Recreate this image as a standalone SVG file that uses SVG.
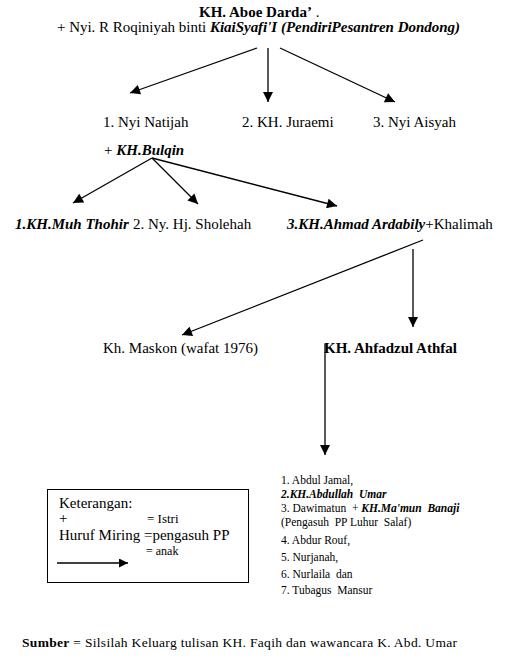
<svg xmlns="http://www.w3.org/2000/svg" width="507" height="665" viewBox="0 0 507 665" font-family="'Liberation Serif', 'DejaVu Serif', serif">
<style>
text{font-family:'Liberation Serif','DejaVu Serif',serif;fill:#000}
.b{font-weight:bold}
.bi{font-weight:bold;font-style:italic}
.t15{font-size:15px}
.t11{font-size:11.5px}
.c{stroke:#000;stroke-width:1.3;fill:none}
</style>
<defs>
<marker id="ah" viewBox="0 0 10 10" refX="10" refY="5" markerWidth="11" markerHeight="10" markerUnits="userSpaceOnUse" orient="auto">
<path d="M0,0 L10,5 L0,10 z" fill="#000"/>
</marker>
<marker id="ahs" viewBox="0 0 10 10" refX="10" refY="5" markerWidth="9" markerHeight="9" markerUnits="userSpaceOnUse" orient="auto">
<path d="M0,0 L10,5 L0,10 z" fill="#000"/>
</marker>
</defs>
<rect width="507" height="665" fill="#fff"/>

<g id="connectors">
<line class="c" x1="257" y1="48" x2="130" y2="93" marker-end="url(#ah)"/>
<line class="c" x1="268" y1="48" x2="268" y2="102" marker-end="url(#ah)"/>
<line class="c" x1="280" y1="48" x2="395" y2="102" marker-end="url(#ah)"/>
<line class="c" x1="152" y1="158" x2="73" y2="203" marker-end="url(#ah)"/>
<line class="c" x1="152" y1="158" x2="198" y2="204" marker-end="url(#ah)"/>
<line class="c" x1="152" y1="158" x2="337" y2="206" marker-end="url(#ah)"/>
<line class="c" x1="423" y1="240" x2="182" y2="335" marker-end="url(#ah)"/>
<line class="c" x1="413" y1="249" x2="413" y2="327" marker-end="url(#ah)"/>
<line class="c" x1="325" y1="344" x2="325" y2="455" marker-end="url(#ah)"/>
</g>

<g id="node-aboe-darda">
<text class="t15" x="199" y="17"><tspan class="b">KH. Aboe Darda’</tspan> .</text>
<text class="t15" x="57" y="32" textLength="403">+ Nyi. R Roqiniyah binti <tspan class="bi">KiaiSyafi'I (PendiriPesantren Dondong)</tspan></text>
</g>

<g id="node-natijah"><text class="t15" x="103" y="127">1. Nyi Natijah</text></g>
<g id="node-juraemi"><text class="t15" x="242" y="127">2. KH. Juraemi</text></g>
<g id="node-aisyah"><text class="t15" x="373" y="127">3. Nyi Aisyah</text></g>

<g id="node-bulqin"><text class="t15" x="104" y="155">+ <tspan class="bi">KH.Bulqin</tspan></text></g>

<g id="node-thohir"><text class="t15 bi" x="15" y="229">1.KH.Muh Thohir</text></g>
<g id="node-sholehah"><text class="t15" x="133" y="229">2. Ny. Hj. Sholehah</text></g>
<g id="node-ardabily"><text class="t15" x="287" y="229"><tspan class="bi">3.KH.Ahmad Ardabily</tspan>+Khalimah</text></g>

<g id="node-maskon"><text class="t15" x="103" y="353">Kh. Maskon (wafat 1976)</text></g>
<g id="node-ahfadzul"><text class="t15 b" x="324" y="353">KH. Ahfadzul Athfal</text></g>

<g id="node-children">
<text class="t11" x="281" y="484">1. Abdul Jamal,</text>
<text class="t11 bi" x="281" y="498" xml:space="preserve">2.KH.Abdullah  Umar</text>
<text class="t11" x="281" y="512" xml:space="preserve">3. Dawimatun  + <tspan class="bi">KH.Ma'mun  Banaji</tspan></text>
<text class="t11" x="281" y="526" xml:space="preserve">(Pengasuh  PP Luhur  Salaf)</text>
<text class="t11" x="281" y="544">4. Abdur Rouf,</text>
<text class="t11" x="281" y="561">5. Nurjanah,</text>
<text class="t11" x="281" y="578" xml:space="preserve">6. Nurlaila  dan</text>
<text class="t11" x="281" y="594" xml:space="preserve">7. Tubagus  Mansur</text>
</g>

<g id="legend">
<rect x="47.5" y="489.5" width="201" height="93" fill="none" stroke="#000" stroke-width="1"/>
<text class="t15" x="59" y="508">Keterangan:</text>
<text class="t15" x="59" y="523">+</text>
<text x="147" y="523" style="font-size:13px">= Istri</text>
<text class="t15" x="59" y="540">Huruf Miring =pengasuh PP</text>
<text x="146" y="555" style="font-size:12px">= anak</text>
<line class="c" x1="57" y1="563" x2="128" y2="563" marker-end="url(#ahs)"/>
</g>

<g id="source">
<text x="22" y="647" style="font-size:13.5px" textLength="435"><tspan class="b">Sumber</tspan> = Silsilah Keluarg tulisan KH. Faqih dan wawancara K. Abd. Umar</text>
</g>
</svg>
